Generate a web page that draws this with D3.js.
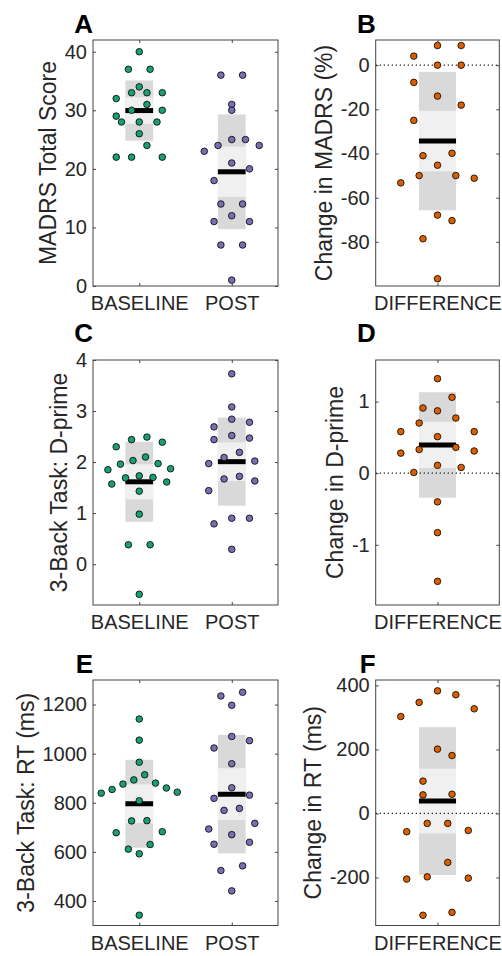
<!DOCTYPE html>
<html>
<head>
<meta charset="utf-8">
<script src="https://cdn.jsdelivr.net/npm/d3@7.9.0/dist/d3.min.js"></script>
<style>
  html, body { margin: 0; padding: 0; background: #fff; }
  svg { display: block; font-family: "Liberation Sans", Arial, sans-serif; }
</style>
</head>
<body>
<svg id="chart" width="502" height="956"></svg>
<script>
// categories
const groupLabels = ['BASELINE', 'POST'];
const diffLabels = ['DIFFERENCE'];

// MADRS total score, one value per subject
const madrsBaseline = [40, 37, 37, 34, 33, 33, 33, 32, 31, 30, 30, 29, 28, 28, 28, 26, 24, 22, 22, 22];
const madrsPost = [36, 36, 31, 30, 25, 25, 24, 24, 23, 21, 20, 18, 14, 14, 12, 11, 11, 7, 7, 1];
const madrsChange = [8.9, 8.9, 4.1, 0, 0, -7.8, -14.0, -18.1, -25.0, -39.9, -41.0, -45.3, -50.0, -50.0, -51.2, -53.3, -67.9, -70.4, -78.6, -96.7];

// 3-back d-prime
const dprimeBaseline = [2.49, 2.44, 2.39, 2.30, 2.10, 2.03, 1.97, 1.96, 1.87, 1.85, 1.73, 1.70, 1.69, 1.61, 1.57, 1.43, 0.98, 0.38, 0.38, -0.59];
const dprimePost = [3.73, 3.08, 2.84, 2.78, 2.69, 2.52, 2.47, 2.44, 2.19, 2.09, 2.02, 1.97, 1.72, 1.67, 1.63, 1.44, 0.90, 0.90, 0.79, 0.29];
const dprimeChange = [1.84, 1.32, 1.06, 0.91, 0.87, 0.77, 0.70, 0.58, 0.58, 0.51, 0.36, 0.33, 0.31, 0.28, 0.11, 0.08, 0.01, -0.40, -0.83, -1.51];

// 3-back reaction time (ms)
const rtBaseline = [1141, 1055, 965, 914, 893, 880, 876, 860, 854, 843, 839, 808, 727, 726, 682, 678, 630, 611, 592, 342];
const rtPost = [1250, 1235, 1197, 1070, 1053, 1023, 959, 861, 831, 818, 777, 769, 716, 693, 670, 639, 631, 543, 524, 441];
const rtChange = [383, 371, 347, 327, 303, 201, 181, 101, 60, 58, -31, -31, -53, -57, -153, -198, -202, -205, -309, -318];

// tick labels
const madrsTicks = [0, 10, 20, 30, 40];
const madrsChangeTicks = [-80, -60, -40, -20, 0];
const dprimeTicks = [0, 1, 2, 3, 4];
const dprimeChangeTicks = [-1, 0, 1];
const rtTicks = [400, 600, 800, 1000, 1200];
const rtChangeTicks = [-200, 0, 200, 400];

const green = '#1b9e77', purple = '#7570b3', orange = '#d95f02';
const textColor = '#262626', frameColor = '#444';

const rows = [
  { top: 40, bottom: 286, letterY: 33 },
  { top: 360, bottom: 605, letterY: 342 },
  { top: 680, bottom: 925.5, letterY: 673 }
];
const cols = [
  { left: 93, right: 278 },
  { left: 375.7, right: 499.3 }
];

// bins used to spread the points sideways (like the original scatter tool)
const panels = [
  { letter: 'A', row: 0, col: 0, label: 'MADRS Total Score', y: [0, 42], ticks: madrsTicks, cats: groupLabels,
    groups: [{ values: madrsBaseline, color: green, bw: 2.45, bo: 21.6 }, { values: madrsPost, color: purple, bw: 4.5, bo: 3.6 }] },
  { letter: 'B', row: 0, col: 1, label: 'Change in MADRS (%)', y: [-100, 11.4], ticks: madrsChangeTicks, cats: diffLabels, zero: true,
    groups: [{ values: madrsChange, color: orange, bw: 14, bo: -69.5 }] },
  { letter: 'C', row: 1, col: 0, label: '3-Back Task: D-prime', y: [-0.8, 4], ticks: dprimeTicks, cats: groupLabels,
    groups: [{ values: dprimeBaseline, color: green, bw: 0.345, bo: 1.475 }, { values: dprimePost, color: purple, bw: 0.4, bo: 2.61 }] },
  { letter: 'D', row: 1, col: 1, label: 'Change in D-prime', y: [-1.84, 1.58], ticks: dprimeChangeTicks, cats: diffLabels, zero: true,
    groups: [{ values: dprimeChange, color: orange, bw: 0.34, bo: 0.55 }] },
  { letter: 'E', row: 2, col: 0, label: '3-Back Task: RT (ms)', y: [300, 1300], ticks: rtTicks, cats: groupLabels,
    groups: [{ values: rtBaseline, color: green, bw: 80, bo: 836 }, { values: rtPost, color: purple, bw: 105, bo: 790 }] },
  { letter: 'F', row: 2, col: 1, label: 'Change in RT (ms)', y: [-350, 417], ticks: rtChangeTicks, cats: diffLabels, zero: true,
    groups: [{ values: rtChange, color: orange, bw: 105, bo: -20 }] }
];

const spreadK = 0.166;   // in category units
const boxHalf = 0.15;

function spreadOffsets(values, bw, bo) {
  const items = values.map((v, i) => ({ v, i }));
  const bins = d3.group(items, d => Math.floor((d.v - bo) / bw));
  const off = new Array(values.length).fill(0);
  for (const members of bins.values()) {
    const n = members.length;
    const sorted = members.slice().sort((a, b) => a.v - b.v);
    const step = n > 1 ? 2 * spreadK / Math.sqrt(n) : 0;
    sorted.forEach((d, j) => {
      // lowest goes left, next right, ... highest ends in the middle
      const slot = j % 2 === 0 ? j / 2 : n - 1 - (j - 1) / 2;
      off[d.i] = (slot - (n - 1) / 2) * step;
    });
  }
  return off;
}

const svg = d3.select('#chart');
svg.append('rect').attr('width', 502).attr('height', 956).attr('fill', '#fff');

panels.forEach((p, pi) => {
  const r = rows[p.row], c = cols[p.col];
  const x = d3.scaleLinear().domain([0.5, p.cats.length + 0.5]).range([c.left, c.right]);
  const y = d3.scaleLinear().domain(p.y).range([r.bottom, r.top]);
  const g = svg.append('g');

  const clipId = 'clip' + pi;
  g.append('clipPath').attr('id', clipId)
    .append('rect').attr('x', c.left).attr('y', r.top)
    .attr('width', c.right - c.left).attr('height', r.bottom - r.top);

  const plot = g.append('g').attr('clip-path', `url(#${clipId})`);

  p.groups.forEach((grp, gi) => {
    const cx = gi + 1;
    const mean = d3.mean(grp.values);
    const sd = d3.deviation(grp.values);
    const ci = 1.96 * sd / Math.sqrt(grp.values.length);

    plot.append('rect')
      .attr('x', x(cx - boxHalf)).attr('width', x(cx + boxHalf) - x(cx - boxHalf))
      .attr('y', y(mean + sd)).attr('height', y(mean - sd) - y(mean + sd))
      .attr('fill', '#d9d9d9');
    plot.append('rect')
      .attr('x', x(cx - boxHalf)).attr('width', x(cx + boxHalf) - x(cx - boxHalf))
      .attr('y', y(mean + ci)).attr('height', y(mean - ci) - y(mean + ci))
      .attr('fill', '#f0f0f0');
    plot.append('line')
      .attr('x1', x(cx - boxHalf)).attr('x2', x(cx + boxHalf))
      .attr('y1', y(mean)).attr('y2', y(mean))
      .attr('stroke', '#000').attr('stroke-width', 5);
  });

  if (p.zero) {
    plot.append('line')
      .attr('x1', c.left).attr('x2', c.right)
      .attr('y1', y(0)).attr('y2', y(0))
      .attr('stroke', textColor).attr('stroke-width', 1.2)
      .attr('stroke-dasharray', '1.3,2.7');
  }

  p.groups.forEach((grp, gi) => {
    const off = spreadOffsets(grp.values, grp.bw, grp.bo);
    plot.append('g').selectAll('circle')
      .data(grp.values)
      .join('circle')
      .attr('cx', (d, i) => x(gi + 1 + off[i]))
      .attr('cy', d => y(d))
      .attr('r', 3.3)
      .attr('fill', grp.color)
      .attr('stroke', '#000')
      .attr('stroke-width', 0.8);
  });

  // axes with inward ticks on all four sides
  const catTicks = p.cats.map((d, i) => i + 1);
  const plain = d => String(d);
  const left = g.append('g').attr('transform', `translate(${c.left},0)`)
    .call(d3.axisLeft(y).tickValues(p.ticks).tickSizeInner(-3).tickSizeOuter(0).tickPadding(6).tickFormat(plain));
  g.append('g').attr('transform', `translate(${c.right},0)`)
    .call(d3.axisRight(y).tickValues(p.ticks).tickSizeInner(-3).tickSizeOuter(0).tickFormat(''));
  g.append('g').attr('transform', `translate(0,${r.bottom})`)
    .call(d3.axisBottom(x).tickValues(catTicks).tickSizeInner(-3).tickSizeOuter(0).tickPadding(10)
      .tickFormat(d => p.cats[d - 1]));
  g.append('g').attr('transform', `translate(0,${r.top})`)
    .call(d3.axisTop(x).tickValues(catTicks).tickSizeInner(-3).tickSizeOuter(0).tickFormat(''));

  g.selectAll('.domain').remove();
  g.selectAll('.tick line').attr('stroke', frameColor);
  g.selectAll('.tick text').attr('fill', textColor).attr('font-size', 20)
    .attr('font-family', '"Liberation Sans", Arial, sans-serif');

  g.append('rect')
    .attr('x', c.left).attr('y', r.top)
    .attr('width', c.right - c.left).attr('height', r.bottom - r.top)
    .attr('fill', 'none').attr('stroke', frameColor).attr('stroke-width', 1);

  // y label sits just left of the widest tick label
  let minLeft = c.left;
  left.selectAll('.tick text').each(function () {
    const b = this.getBBox();
    const m = this.parentNode.transform.baseVal.consolidate();
    const tx = m ? m.matrix.e : 0;
    minLeft = Math.min(minLeft, c.left + tx + b.x);
  });
  g.append('text')
    .attr('transform', `translate(${minLeft - 9},${(r.top + r.bottom) / 2}) rotate(-90)`)
    .attr('text-anchor', 'middle')
    .attr('font-size', 23)
    .attr('fill', textColor)
    .text(p.label);

  g.append('text')
    .attr('x', c.left).attr('y', r.letterY)
    .attr('text-anchor', 'end')
    .attr('font-size', 26).attr('font-weight', 'bold')
    .attr('fill', '#000')
    .text(p.letter);
});
</script>
</body>
</html>
